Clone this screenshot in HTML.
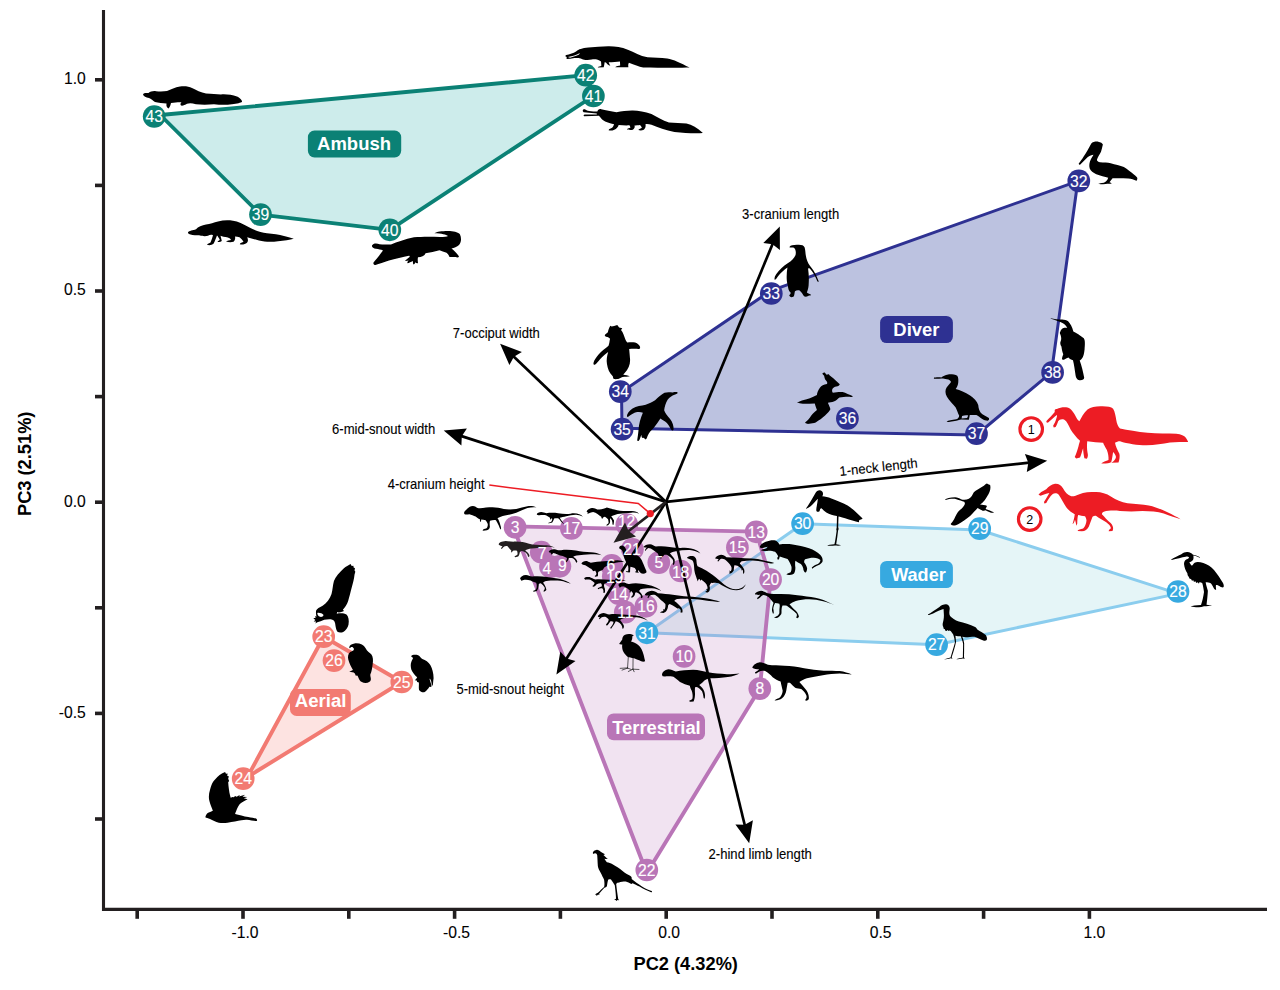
<!DOCTYPE html>
<html lang="en">
<head>
<meta charset="utf-8">
<title>PC2 vs PC3 morphospace</title>
<style>
html,body{margin:0;padding:0;background:#fff;}
body{width:1280px;height:990px;overflow:hidden;}
svg{display:block;font-family:"Liberation Sans",Arial,Helvetica,sans-serif;}
.num{font-size:16px;fill:#fff;text-anchor:middle;stroke:#fff;stroke-width:0.15px;}
.tick{font-size:16px;fill:#000;stroke:#000;stroke-width:0.1px;}
.ax{font-size:18.67px;font-weight:bold;fill:#000;}
.vec{font-size:13.33px;fill:#000;stroke:#000;stroke-width:0.1px;}
.grp{font-size:18.67px;font-weight:bold;fill:#fff;}
</style>
</head>
<body>

<svg width="1280" height="990" viewBox="0 0 1280 990">
<rect width="1280" height="990" fill="#fff"/>
<g stroke-linejoin="round">
<polygon points="160.3,115 585.7,75.2 593.4,96 389.8,229.8 260.5,214.6" fill="#cdeceb" stroke="#0b8175" stroke-width="3.8"/>
<polygon points="621.5,392 771.1,290.6 1077.8,181.2 1051.5,372.3 976.5,435 622,428.3" fill="#bcc2e0" stroke="#2e3192" stroke-width="3.0"/>
<polygon points="646.9,632.8 802.6,523.7 979.7,530 1178,593.6 936.6,644.7" fill="#e5f5f7" stroke="#8bcdee" stroke-width="3.0"/>
<polygon points="323.7,636.7 401.8,682 247.5,776.9" fill="#fde3e1" stroke="#f27a72" stroke-width="3.9"/>
<polygon points="513,526.4 756.2,531.6 770.6,579.6 759.8,688.6 646.8,873" fill="#b975b7" fill-opacity="0.2"/>
<polygon points="513,526.4 756.2,531.6 770.6,579.6 759.8,688.6 646.8,873" fill="none" stroke="#b975b7" stroke-width="3.9"/>
</g>
<g stroke="#231f20" stroke-width="3.1" fill="none">
<path d="M103.5,10 V909.4 H1267"/>
</g>
<g stroke="#231f20" stroke-width="3.6" fill="none">
<path d="M137.2,909.4 V918.8"/>
<path d="M243,909.4 V918.8"/>
<path d="M348.8,909.4 V918.8"/>
<path d="M454.6,909.4 V918.8"/>
<path d="M560.4,909.4 V918.8"/>
<path d="M666.2,909.4 V918.8"/>
<path d="M772,909.4 V918.8"/>
<path d="M877.8,909.4 V918.8"/>
<path d="M983.6,909.4 V918.8"/>
<path d="M1089.4,909.4 V918.8"/>
<path d="M95,819 H103.5"/>
<path d="M95,713.4 H103.5"/>
<path d="M95,607.8 H103.5"/>
<path d="M95,502.2 H103.5"/>
<path d="M95,396.6 H103.5"/>
<path d="M95,291 H103.5"/>
<path d="M95,185.4 H103.5"/>
<path d="M95,79.8 H103.5"/>
</g>
<g class="tick">
<text transform="translate(231.46 938.10) scale(0.9800 1.0450)">-1.0</text>
<text transform="translate(443.06 938.10) scale(0.9800 1.0450)">-0.5</text>
<text transform="translate(658.26 938.10) scale(0.9800 1.0450)">0.0</text>
<text transform="translate(869.76 938.10) scale(0.9800 1.0450)">0.5</text>
<text transform="translate(1083.48 938.10) scale(0.9800 1.0450)">1.0</text>
<text transform="translate(85.79 83.90) scale(0.9800 1.0450)" text-anchor="end">1.0</text>
<text transform="translate(85.79 294.90) scale(0.9800 1.0450)" text-anchor="end">0.5</text>
<text transform="translate(85.79 507.20) scale(0.9800 1.0450)" text-anchor="end">0.0</text>
<text transform="translate(85.79 718.30) scale(0.9800 1.0450)" text-anchor="end">-0.5</text>
</g>
<text transform="translate(633.48 970.00) scale(0.9780 1.0000)" class="ax">PC2 (4.32%)</text>
<text transform="translate(30.60 516.02) rotate(-90.00) scale(0.9780 1.0000)" class="ax">PC3 (2.51%)</text>
<rect x="307.9" y="130.5" width="93.3" height="26.9" rx="6.6" fill="#0b8175"/>
<text transform="translate(317.11 149.80) scale(0.9890 1.0300)" class="grp">Ambush</text>
<rect x="880.1" y="315.9" width="72.8" height="27.2" rx="6.6" fill="#2e3192"/>
<text transform="translate(893.37 336.00) scale(0.9856 1.0300)" class="grp">Diver</text>
<rect x="880.1" y="560.9" width="72.8" height="27.2" rx="6.6" fill="#37a9e0"/>
<text transform="translate(891.20 581.00) scale(0.9679 1.0300)" class="grp">Wader</text>
<rect x="607" y="713.4" width="98" height="26.9" rx="6.6" fill="#b975b7"/>
<text transform="translate(612.25 733.90) scale(0.9836 1.0300)" class="grp">Terrestrial</text>
<rect x="290" y="688.9" width="60.8" height="27" rx="6.6" fill="#f27a72"/>
<text transform="translate(294.80 706.80) scale(0.9960 1.0300)" class="grp">Aerial</text>
<g>
<circle cx="154.2" cy="116.5" r="11.35" fill="#0b8175"/>
<circle cx="585.7" cy="75.2" r="11.35" fill="#0b8175"/>
<circle cx="593.4" cy="96" r="11.35" fill="#0b8175"/>
<circle cx="389.8" cy="229.8" r="11.35" fill="#0b8175"/>
<circle cx="260.5" cy="214.6" r="11.35" fill="#0b8175"/>
<circle cx="620.3" cy="391.6" r="11.35" fill="#2e3192"/>
<circle cx="622.1" cy="429.2" r="11.35" fill="#2e3192"/>
<circle cx="771.3" cy="293.5" r="11.35" fill="#2e3192"/>
<circle cx="1078.8" cy="180.9" r="11.35" fill="#2e3192"/>
<circle cx="847.4" cy="418.4" r="11.35" fill="#2e3192"/>
<circle cx="976.5" cy="433.7" r="11.35" fill="#2e3192"/>
<circle cx="1052.6" cy="372.4" r="11.35" fill="#2e3192"/>
<circle cx="936.6" cy="644.7" r="11.35" fill="#37a9e0"/>
<circle cx="1178" cy="591.5" r="11.35" fill="#37a9e0"/>
<circle cx="979.7" cy="528.7" r="11.35" fill="#37a9e0"/>
<circle cx="323.7" cy="636.7" r="11.35" fill="#f27a72"/>
<circle cx="334" cy="660.6" r="11.35" fill="#f27a72"/>
<circle cx="401.8" cy="682" r="11.35" fill="#f27a72"/>
<circle cx="243.2" cy="778.7" r="11.35" fill="#f27a72"/>
<circle cx="515.1" cy="527.3" r="11.35" fill="#b975b7"/>
<circle cx="571.4" cy="528.4" r="11.35" fill="#b975b7"/>
<circle cx="626.8" cy="524.6" r="11.35" fill="#b975b7"/>
<circle cx="756.2" cy="531.8" r="11.35" fill="#b975b7"/>
<circle cx="737.4" cy="547.4" r="11.35" fill="#b975b7"/>
<circle cx="770.6" cy="579.6" r="11.35" fill="#b975b7"/>
<circle cx="541.3" cy="552.2" r="11.35" fill="#b975b7"/>
<circle cx="550.5" cy="566.7" r="11.35" fill="#b975b7"/>
<circle cx="559.9" cy="566.3" r="11.35" fill="#b975b7"/>
<circle cx="611.7" cy="565.4" r="11.35" fill="#b975b7"/>
<circle cx="613.3" cy="576.3" r="11.35" fill="#b975b7"/>
<circle cx="618.8" cy="593.7" r="11.35" fill="#b975b7"/>
<circle cx="625.3" cy="612.2" r="11.35" fill="#b975b7"/>
<circle cx="645.9" cy="606.3" r="11.35" fill="#b975b7"/>
<circle cx="632.4" cy="549.3" r="11.35" fill="#b975b7"/>
<circle cx="658.8" cy="562.6" r="11.35" fill="#b975b7"/>
<circle cx="680.6" cy="571" r="11.35" fill="#b975b7"/>
<circle cx="684.1" cy="656.4" r="11.35" fill="#b975b7"/>
<circle cx="759.8" cy="688.6" r="11.35" fill="#b975b7"/>
<circle cx="646.8" cy="870" r="11.35" fill="#b975b7"/>
<circle cx="802.6" cy="523.7" r="11.35" fill="#37a9e0"/>
<circle cx="646.9" cy="632.8" r="11.35" fill="#37a9e0"/>
<circle cx="1031.2" cy="429.1" r="11.3" fill="#fff" stroke="#ed1c24" stroke-width="3.1"/>
<circle cx="1029.7" cy="519.1" r="11.3" fill="#fff" stroke="#ed1c24" stroke-width="3.1"/>
</g>
<g id="sil">
<g transform="translate(136 78) scale(0.10000)" fill="#000"><path d="M70,165 C75,150 95,148 125,150 C145,135 170,128 200,132 C240,136 280,135 310,130 C350,115 390,90 440,85 C490,80 530,85 560,100 C600,120 650,145 700,155 C760,160 800,160 850,165 C900,160 960,170 1010,185 C1040,200 1065,225 1060,238 C1050,250 1010,255 960,262 C900,270 840,268 780,262 C720,268 650,268 600,262 C560,250 530,250 510,258 C490,270 465,280 450,275 C440,265 445,250 455,243 C430,240 390,245 350,250 C345,270 340,290 325,305 C310,300 300,280 305,255 C270,250 220,250 190,240 C170,230 150,205 130,200 C100,195 75,185 70,165 Z"/></g>
<g transform="translate(560 36) scale(0.10938)" fill="#000"><path d="M50,178 C70,170 110,165 150,140 C170,120 200,112 260,105 C320,100 380,95 440,93 C500,92 560,100 620,125 C680,150 730,180 800,195 C860,200 920,198 980,205 C1040,215 1100,245 1185,288 C1100,292 900,290 760,288 C720,285 680,260 630,245 C620,260 625,275 625,285 L505,285 C510,275 540,275 550,270 L548,232 C520,235 480,240 445,240 C450,255 455,265 460,272 C440,268 430,255 420,242 L408,240 C405,255 405,270 400,285 L345,287 C350,278 370,278 378,272 L375,232 C350,215 320,210 290,215 C260,222 220,222 190,205 C160,200 120,200 95,208 L62,210 C55,200 70,192 52,190 Z"/><path d="M72,192 C100,186 130,180 160,166 L182,156 L174,170 C150,182 120,192 92,198 Z" fill="#fff"/></g>
<g transform="translate(576 96) scale(0.10938)" fill="#000"><path d="M65,125 C75,115 90,125 100,132 C130,138 165,145 195,142 C200,125 215,115 230,122 C270,130 320,140 370,148 C420,140 470,132 520,133 C570,133 630,145 690,165 C740,190 790,225 850,242 C900,245 960,245 1010,252 C1060,265 1110,290 1160,338 C1100,345 1000,340 900,328 C820,315 750,285 690,262 C670,258 650,255 635,258 C640,275 635,295 620,308 C600,318 580,315 570,310 C575,300 595,298 602,290 C600,280 590,270 585,265 C570,268 545,268 535,270 C540,285 535,300 520,308 C500,312 475,310 465,305 C470,295 490,295 498,288 C495,278 490,270 488,268 C460,270 420,268 390,265 C385,285 370,300 350,308 C330,318 310,318 298,312 C300,300 320,298 330,290 C340,280 345,268 348,258 C310,250 270,240 245,220 C230,205 220,190 210,180 L75,185 C65,180 70,170 80,168 L190,170 L190,160 L70,148 C60,140 60,130 65,125 Z"/></g>
<g transform="translate(180 206) scale(0.10000)" fill="#000"><path d="M80,262 C90,245 130,245 160,232 C180,205 220,195 260,185 C300,180 340,165 380,155 C430,142 480,140 530,148 C580,155 630,180 690,212 C750,245 810,265 870,272 C930,278 990,285 1040,300 C1080,312 1120,320 1138,328 C1100,340 1040,350 980,352 C920,360 850,360 790,345 C750,335 710,320 672,312 C680,330 685,350 670,368 C650,385 620,390 598,382 C600,370 625,365 635,358 C625,340 610,325 595,312 C580,310 565,305 550,305 C555,325 550,345 535,358 C510,365 480,362 460,355 C470,345 495,345 510,340 C505,325 490,318 470,312 C450,312 420,305 405,298 C410,315 415,335 418,350 C405,362 390,362 375,358 C380,348 395,345 398,338 C390,322 380,305 370,295 C360,320 350,350 335,378 C320,392 290,395 270,388 C275,375 295,372 305,365 C315,340 325,315 330,292 C310,285 295,290 280,298 C250,305 210,300 190,292 C160,295 110,290 90,280 C80,275 78,268 80,262 Z"/></g>
<g transform="translate(360 222) scale(0.10000)" fill="#000"><path d="M120,235 C130,210 170,210 195,222 C230,225 270,225 310,225 C370,200 450,170 540,152 C620,145 720,145 800,150 C840,150 870,148 880,140 C860,125 820,115 745,112 C770,95 830,88 900,90 C950,95 990,105 1000,125 C1015,160 1015,200 990,230 C970,248 940,258 915,265 C940,285 975,320 990,345 C985,358 970,355 955,350 C935,350 910,352 895,350 C890,335 880,318 865,308 C840,300 815,290 795,282 C750,295 700,305 655,312 C650,335 620,350 580,352 C575,370 578,395 580,410 C570,415 560,410 555,402 C548,415 540,425 535,425 C528,415 530,400 528,390 C510,398 490,410 475,412 C470,400 480,390 490,385 C475,388 460,392 450,390 C460,375 480,365 495,350 C500,340 495,335 490,338 C430,350 350,370 290,385 C240,400 190,420 155,430 C140,430 130,420 135,405 C165,370 205,320 230,285 C210,275 185,272 160,268 C135,265 115,250 120,235 Z"/></g>
<g transform="translate(1070 136) scale(0.06263)" fill="#000"><path d="M140,440 C180,390 250,290 340,120 C360,95 400,88 450,90 C490,95 520,115 525,135 C515,170 510,210 495,250 C470,300 440,340 430,380 C430,400 450,415 480,420 C540,425 600,425 650,435 C720,455 800,470 860,495 C920,530 970,575 1020,615 C1050,640 1070,655 1075,670 C1075,690 1070,710 1060,715 C1020,700 980,685 930,680 C850,672 760,672 680,675 C665,695 645,720 630,740 C645,745 660,750 665,758 C640,765 600,760 570,765 C530,770 480,772 450,768 C460,755 500,750 540,745 C570,735 595,710 610,665 C560,655 480,635 420,610 C370,590 330,560 315,520 C300,470 310,420 330,380 C345,350 365,320 375,300 C350,300 310,315 280,340 C240,375 200,420 160,460 C145,460 138,450 140,440 Z"/></g>
<g transform="translate(758 238) scale(0.06263)" fill="#000"><path d="M505,140 C520,115 560,112 620,108 C680,102 730,110 745,150 C760,200 755,270 775,330 C790,380 810,420 850,470 C900,530 940,610 970,695 C965,705 955,700 945,685 C920,620 880,540 830,490 C815,480 805,480 800,490 C810,560 815,640 810,720 C810,770 800,830 780,870 C800,885 830,895 850,910 C845,920 820,915 800,925 C780,940 750,940 735,930 C715,900 690,860 665,840 C640,830 610,835 590,850 C580,880 585,910 570,935 C550,945 530,950 515,940 C505,930 495,920 500,910 C510,905 525,890 520,870 C490,850 480,800 475,750 C450,680 455,560 470,470 C420,500 360,560 320,610 C300,640 285,665 265,665 C260,640 270,610 290,580 C340,510 410,440 480,400 C530,370 580,320 600,270 C610,220 600,180 575,155 C550,150 520,155 505,150 Z"/></g>
<g transform="translate(580 320) scale(0.06263)" fill="#000"><path d="M395,245 C400,225 430,210 445,195 C450,160 465,120 485,90 L505,105 L545,95 L595,80 L625,120 L675,130 L655,160 C690,200 705,260 725,310 C735,330 745,350 755,360 C790,355 840,350 880,360 C920,375 955,405 960,430 C960,455 950,465 935,462 C890,455 830,455 785,465 C790,520 795,580 800,640 C800,720 770,790 710,850 L690,870 C720,880 770,880 795,900 C770,910 720,905 680,912 C650,920 640,935 610,942 C580,945 550,945 535,940 C525,925 530,905 520,895 C470,850 440,780 430,700 C420,640 430,570 450,510 C410,540 360,580 320,625 C290,660 260,700 235,715 C220,715 212,705 215,685 C225,640 260,590 300,545 C340,500 410,450 455,410 C470,380 470,340 480,300 C470,285 455,275 440,270 C420,272 400,268 395,245 Z"/></g>
<g transform="translate(610 384) scale(0.06263)" fill="#000"><path d="M270,510 C270,480 300,430 360,390 C420,350 500,345 570,330 C620,315 680,290 720,260 C770,215 820,165 870,140 C910,125 960,130 1000,135 C1030,130 1060,125 1080,135 C1085,150 1060,160 1030,170 C990,185 950,210 920,250 C890,300 870,370 865,420 C875,460 920,510 960,560 C1000,610 1020,680 1015,730 C1005,745 990,745 975,725 C950,680 920,630 880,600 C855,580 825,565 805,550 C770,600 730,660 700,700 C660,740 620,780 600,830 C590,860 585,880 570,885 C555,880 545,865 530,860 C510,865 505,850 500,810 C490,840 480,880 460,905 C445,915 435,915 435,895 C440,860 450,800 455,740 C460,640 490,540 525,460 C480,440 420,445 370,470 C330,490 300,520 280,525 C272,522 270,518 270,510 Z"/></g>
<g transform="translate(790 368) scale(0.06263)" fill="#000"><path d="M110,548 C140,540 180,520 220,510 C280,500 350,470 430,430 C430,400 450,350 480,310 C500,280 540,260 590,255 C600,240 595,220 575,200 C555,180 550,150 545,125 C530,110 515,95 520,80 C535,75 545,70 555,72 C565,85 575,100 585,108 C595,100 610,95 620,100 C625,110 640,125 660,140 C700,170 750,215 795,260 C790,280 770,290 740,295 C710,300 685,315 675,340 C670,360 670,380 685,395 C730,390 790,380 840,385 C890,400 950,430 1005,450 C1000,465 970,462 930,460 C880,462 830,465 790,470 C760,490 740,520 700,535 C670,545 630,550 605,555 C620,590 640,630 645,660 C630,690 600,720 560,760 C520,800 460,840 410,870 C380,885 340,885 310,890 C290,895 260,895 240,870 C270,850 310,810 340,760 C370,720 410,690 430,670 C420,640 405,600 395,565 C340,565 280,570 220,570 C180,575 140,560 110,548 Z"/></g>
<g transform="translate(925 368) scale(0.06263)" fill="#000"><path d="M140,160 C145,150 200,148 260,150 C290,130 320,110 370,102 C420,98 480,105 515,125 C535,150 535,200 530,240 C525,280 510,310 490,335 C560,355 640,385 720,440 C780,480 830,530 850,590 C855,640 865,680 890,715 C920,745 980,775 1020,800 C1030,820 1020,840 1000,842 C970,842 940,835 915,815 C880,790 850,765 820,750 C790,748 750,748 715,750 C710,780 705,805 700,828 L575,822 C540,835 470,850 400,858 C370,862 350,862 345,855 C370,840 430,830 500,820 C530,810 545,790 545,760 C525,720 510,670 490,630 C450,580 390,530 350,460 C320,400 320,350 345,310 C370,280 400,250 415,225 C410,200 385,185 350,180 C320,175 290,170 270,168 C230,172 180,175 145,172 Z"/><path d="M592,768 C620,754 660,752 690,757 L672,798 L584,806 Z" fill="#bcc2e0"/></g>
<g transform="translate(1030 312) scale(0.07475)" fill="#000"><path d="M275,82 C320,90 380,100 430,102 C460,105 490,110 510,125 C540,160 565,200 580,260 C620,280 670,310 720,350 C740,380 735,440 730,500 C725,550 715,600 690,630 C680,640 670,645 665,650 C690,720 710,800 725,880 C725,905 700,915 660,912 C630,910 615,880 610,850 C600,780 590,700 575,645 C550,640 530,630 515,610 C500,615 480,625 460,635 C445,640 430,640 428,625 C430,600 440,580 445,565 C430,530 425,490 420,460 C405,440 400,410 410,390 C420,370 420,340 410,310 C400,290 395,275 405,265 C410,240 430,220 460,212 C475,210 490,212 498,215 C490,190 470,165 440,150 C400,130 340,110 280,90 Z"/></g>
<g transform="translate(1040 400) scale(0.12500)" fill="#ed1c24"><path d="M50,170 C70,145 100,120 118,95 C115,80 120,70 135,72 C160,60 190,55 220,60 C250,70 270,100 285,130 C295,150 305,165 315,170 C330,140 350,100 380,75 C410,55 450,48 500,50 C540,50 570,55 585,70 C600,95 605,130 610,160 C615,190 625,215 640,228 C700,240 780,255 860,262 C940,268 1020,268 1090,270 C1130,275 1155,285 1165,300 C1175,315 1182,325 1185,335 C1140,335 1090,335 1040,340 C980,350 920,360 850,362 C780,362 700,350 640,330 C625,330 610,335 600,342 C605,370 620,400 635,430 C640,450 635,480 628,500 L570,502 C590,490 605,475 608,455 C605,440 595,425 585,415 C580,440 578,470 570,495 C560,505 520,510 490,508 C500,495 530,490 548,480 C550,455 545,425 535,400 C520,375 510,355 505,342 C470,340 420,335 378,330 C375,360 375,390 380,420 C385,440 385,455 375,470 L355,465 C350,440 345,410 345,385 C335,410 330,440 320,460 L290,468 L278,455 C290,430 300,400 308,370 C312,350 318,335 320,325 C290,300 265,265 245,235 C230,205 215,170 195,158 C175,150 155,155 145,170 C140,185 135,200 125,215 L110,220 L105,205 C115,190 125,170 130,150 C135,135 138,125 135,120 C115,135 90,160 65,180 L55,182 Z"/></g>
<g transform="translate(1030 476) scale(0.12500)" fill="#ed1c24"><path d="M68,150 C75,135 100,120 130,105 C150,85 170,65 200,62 C230,60 250,75 265,100 C280,130 300,150 330,162 C350,165 370,155 395,145 C430,130 480,128 530,128 C570,128 610,140 650,165 C690,190 730,210 780,218 C840,225 900,228 950,235 C1000,245 1050,265 1100,290 C1140,310 1180,330 1205,345 C1170,335 1120,318 1070,300 C1020,285 960,280 900,280 C840,285 780,285 720,280 C680,275 630,275 590,285 C580,290 575,295 575,305 C595,325 620,355 645,375 C665,395 670,420 660,440 L630,442 C628,432 640,425 648,418 C645,400 630,385 610,370 C585,355 555,340 530,320 C520,315 510,320 500,325 C490,350 480,380 470,405 C460,425 440,440 415,442 L380,440 C385,428 405,425 425,420 C440,405 450,380 452,355 C450,340 445,330 440,322 C420,320 400,315 385,312 C380,330 378,355 378,380 L372,398 C368,385 365,365 360,350 C355,365 350,380 340,385 C345,365 355,335 358,305 C335,295 310,275 290,250 C270,220 250,180 230,150 C215,135 195,135 180,145 C160,160 145,190 130,215 L115,220 L112,208 C125,185 140,160 155,135 C130,140 105,150 85,158 Z"/></g>
<g transform="translate(800 486) scale(0.06263)" fill="#000"><path d="M95,360 C130,310 180,230 245,115 C260,85 290,65 320,68 C350,72 370,100 368,130 C365,145 360,155 355,165 C400,170 450,180 500,200 C580,235 680,265 760,310 C830,355 920,440 1000,520 C990,530 960,540 945,545 L940,580 C880,565 800,540 720,515 C680,500 640,490 615,485 C612,540 612,600 610,660 C618,680 618,695 608,710 C600,780 590,860 578,930 C610,935 640,940 655,948 C630,958 590,955 560,952 C520,955 470,958 435,952 C450,940 500,938 550,932 C565,870 575,790 585,715 C578,700 578,685 585,670 C588,610 590,545 590,480 C530,470 470,455 420,425 C390,405 365,380 345,355 C335,355 325,360 320,370 C318,385 315,400 305,408 C290,415 275,415 265,405 C255,385 262,350 268,320 C275,280 282,240 285,205 C250,240 210,290 170,325 C145,345 120,358 100,365 Z"/></g>
<g transform="translate(935 476) scale(0.06263)" fill="#000"><path d="M160,375 C180,355 240,345 320,338 C360,340 390,355 415,372 C450,385 500,385 540,365 C580,340 600,300 620,260 C650,230 720,190 780,155 C800,140 815,125 830,120 L850,130 L880,145 C890,180 885,220 870,255 C850,300 820,350 790,390 C765,420 740,440 720,455 C760,462 800,465 820,470 C830,480 830,490 820,500 C815,510 810,520 808,525 C850,540 900,560 940,580 C935,590 915,590 895,585 C860,570 830,555 805,545 C790,548 775,555 760,555 C735,545 710,525 680,512 C650,545 610,590 560,640 C500,690 430,740 370,770 C340,785 310,795 290,790 C270,785 255,775 250,765 C270,745 290,720 305,690 C330,640 355,590 380,560 C420,525 460,490 475,450 C480,430 475,420 465,410 C430,400 390,385 340,370 C290,358 220,368 170,382 Z"/></g>
<g transform="translate(920 600) scale(0.06263)" fill="#000"><path d="M125,232 C170,205 240,160 310,110 C340,85 380,65 420,68 C455,72 475,100 475,140 C470,180 460,220 480,255 C510,290 560,320 620,345 C700,365 800,395 880,430 C900,440 905,455 915,470 C960,500 1020,530 1050,560 C1070,590 1075,620 1065,640 C1050,655 1030,655 1010,645 C960,625 910,600 870,585 C820,585 770,590 730,595 C710,595 690,590 675,588 C690,620 700,660 705,690 C705,770 705,850 702,920 C710,925 715,935 712,940 L685,935 C650,940 610,948 580,948 C600,935 650,930 685,920 C685,850 688,770 688,700 C680,660 665,615 650,580 C620,578 590,575 565,570 C570,600 575,640 575,670 C560,750 530,840 505,915 C515,925 520,935 515,940 L490,932 C460,940 420,950 385,950 C405,935 450,928 488,918 C510,840 540,750 558,680 C555,640 545,590 530,550 C515,530 500,510 490,495 L470,485 L455,495 L440,480 L425,495 L405,490 L398,468 L378,460 L372,430 C360,410 358,380 368,350 C380,310 385,260 380,210 C378,180 378,160 375,145 C330,155 270,185 210,215 C180,228 150,238 130,240 Z"/></g>
<g transform="translate(1160 546) scale(0.06667)" fill="#000"><path d="M165,205 C200,180 270,150 320,125 C350,100 380,88 410,90 C450,95 480,110 495,130 C520,132 560,148 600,168 L598,176 C560,160 530,148 500,144 C505,170 505,195 495,210 C480,225 460,240 440,245 C450,265 465,285 478,295 C490,285 500,265 520,250 C550,235 600,240 650,255 C710,275 770,310 810,360 C860,420 910,500 945,555 C960,585 960,610 950,620 C930,625 910,615 895,605 C875,590 855,580 840,585 C835,600 840,630 842,655 C830,660 815,650 805,630 C790,600 775,575 760,560 C740,550 710,545 685,545 C690,580 705,630 718,670 C715,740 705,820 698,880 C730,885 760,888 780,892 C750,900 700,900 660,905 C630,915 600,920 570,918 C530,915 490,915 460,910 C480,895 540,890 615,885 C635,830 650,760 660,690 C655,650 645,600 635,560 C620,545 600,540 590,545 L585,565 L565,545 L545,555 L530,530 L510,540 L500,515 L480,520 L465,495 L445,490 L430,460 L415,440 L410,410 C385,370 365,320 360,270 C360,240 375,210 400,200 C420,195 435,185 435,170 C425,155 405,155 385,160 C330,170 250,190 175,210 Z"/></g>
<g transform="translate(300 560) scale(0.08081)" fill="#000"><path d="M200,625 C210,600 240,585 280,565 C330,535 370,480 390,420 C405,370 405,310 420,260 C440,210 490,150 540,105 C570,80 600,65 625,50 L640,75 L660,70 L665,95 L680,100 L675,130 L685,145 L675,180 C670,230 655,290 640,340 C625,400 610,460 595,510 C580,550 555,590 530,615 L545,630 L520,640 C495,650 475,650 460,645 L455,665 C500,655 550,660 575,675 C600,700 610,750 600,800 C590,840 565,870 535,890 C510,900 480,900 460,885 C445,860 440,820 435,785 C430,760 420,745 400,738 C370,730 330,735 300,740 C270,755 240,765 215,770 L190,785 L200,760 L170,762 L190,742 L165,720 L195,715 L185,695 L205,700 C200,680 195,660 198,640 C198,635 199,630 200,625 Z"/><path d="M215,655 C240,650 275,660 292,680 C285,700 265,712 240,700 C225,690 212,672 215,655 Z" fill="#fff"/></g>
<g transform="translate(330 636) scale(0.09375)" fill="#000"><path d="M205,125 C205,100 230,85 270,78 C320,75 360,95 380,130 C395,160 420,175 440,195 C460,220 462,260 455,300 C450,340 445,380 430,410 C428,430 440,450 435,470 C430,490 410,500 380,500 C350,500 325,490 315,470 C305,450 300,430 290,420 L275,425 L265,400 C250,385 230,385 205,382 C220,370 240,368 245,362 C225,330 205,290 195,250 C188,220 192,190 215,170 C235,160 255,155 255,140 C245,120 225,115 210,130 Z"/><path d="M865,215 C875,200 910,195 940,205 C960,215 970,235 985,245 C1020,255 1050,275 1070,310 C1090,345 1105,400 1105,450 C1100,480 1100,510 1095,535 L1085,510 L1080,545 L1060,540 C1050,560 1030,580 1010,598 C990,605 965,595 950,575 C945,550 950,520 948,495 L930,490 L925,475 L905,472 L920,455 L930,440 C905,420 880,390 868,360 C860,330 858,300 868,275 C875,255 885,245 885,235 C880,225 870,222 865,215 Z"/><path d="M224,120 C236,112 252,124 252,140 C242,132 232,130 224,130 Z M1066,452 C1078,470 1086,495 1084,528 C1076,510 1070,485 1062,462 Z" fill="#fff"/></g>
<g transform="translate(195 766) scale(0.06263)" fill="#000"><path d="M165,820 C170,790 185,760 210,745 C240,735 265,725 285,715 C270,670 245,620 230,560 C215,500 220,440 240,380 C255,330 270,280 295,245 C330,200 380,150 430,120 L480,95 L495,125 L520,120 L515,160 L540,165 L530,205 L545,240 L530,260 C535,330 545,410 560,470 L570,505 L600,495 L620,500 L640,480 L665,490 L720,460 L700,485 L800,460 L760,490 L835,495 L780,515 L840,530 C800,550 760,570 730,595 C700,620 680,660 665,700 C655,725 645,750 640,765 C700,780 780,800 850,815 C900,825 950,830 975,840 C995,855 995,870 985,878 C940,875 880,868 830,860 C800,858 770,862 740,868 C680,880 600,895 520,905 C470,910 420,910 380,905 C330,890 280,865 240,845 C210,835 180,830 165,820 Z"/></g>
<g transform="translate(585 844) scale(0.06263)" fill="#000"><path d="M125,140 C130,115 155,95 190,90 C215,90 235,105 250,125 C270,140 295,155 320,165 L295,175 C310,190 330,205 345,225 L365,235 L330,240 L310,235 C320,255 335,275 350,290 C380,295 410,305 440,325 C490,355 550,390 600,430 C640,465 680,490 720,505 C745,520 750,540 745,560 C790,595 850,640 910,680 C960,710 1020,740 1065,750 C1075,760 1070,770 1055,772 C1000,750 930,715 870,680 C830,660 790,640 760,625 L740,640 C710,625 680,605 650,600 C620,595 590,598 565,605 C550,615 535,620 515,618 L498,640 C502,680 510,740 518,800 C522,830 528,860 530,880 L545,900 L520,895 L500,910 L490,895 L465,885 L495,875 C495,840 490,790 485,740 C482,710 478,680 475,660 C455,625 435,590 415,565 C400,560 385,560 370,570 C360,600 355,640 350,675 C340,690 325,695 310,700 C280,730 250,765 225,795 L235,805 L205,810 L185,830 L180,812 L160,810 L175,795 L205,780 C235,750 275,710 305,685 C315,650 310,610 305,570 C290,540 270,500 250,460 C230,420 210,390 205,350 C200,290 200,230 195,180 C190,160 180,148 165,148 C150,150 138,155 128,158 Z"/></g>
<g transform="translate(460 498) scale(0.06250)" fill="#000"><path d="M65,235 C70,205 110,180 150,145 C180,125 220,120 250,140 C270,155 290,165 320,165 C380,155 450,148 520,148 C580,148 640,160 700,175 C760,185 830,185 900,175 C960,160 1020,140 1080,130 C1130,125 1180,128 1225,150 C1180,145 1130,148 1080,160 C1020,180 960,210 900,235 C840,255 780,270 720,280 C670,290 630,305 600,325 C620,350 635,390 645,430 C655,455 660,480 655,505 C640,495 630,470 620,440 C605,410 590,380 575,355 C545,350 510,355 480,365 C470,395 475,430 478,460 C475,490 460,510 430,515 C400,520 375,525 360,520 C365,500 395,495 425,485 C440,470 445,445 445,420 C440,395 425,375 410,355 C385,350 360,350 340,345 L335,380 L320,375 L318,340 C290,330 270,310 250,295 C220,285 180,270 150,260 C120,265 90,270 75,260 C65,252 63,245 65,235 Z"/></g>
<g transform="translate(530 498) scale(0.06250)" fill="#000"><path d="M108,260 C115,240 145,225 180,225 C210,228 230,240 260,242 C320,235 390,235 450,242 C520,255 590,258 650,250 C700,242 750,245 800,265 C820,275 840,290 848,300 C830,290 800,275 760,270 C700,265 640,275 580,290 C540,300 500,305 475,315 C490,340 510,370 530,395 L545,415 C530,410 510,395 495,375 C480,355 465,335 450,325 C430,322 405,325 385,328 C380,350 370,375 355,392 C335,402 310,408 290,405 C295,390 320,388 340,378 C350,365 358,345 355,330 L340,325 L335,345 L322,340 L320,315 C300,300 280,285 255,275 C220,268 180,270 150,275 C130,275 110,270 108,260 Z"/></g>
<g transform="translate(580 498) scale(0.06250)" fill="#000"><path d="M105,215 C115,190 150,170 190,160 C225,155 250,170 275,185 C320,185 370,180 400,165 L430,150 L470,165 C520,180 580,195 640,205 C700,210 770,208 830,208 C880,210 920,225 945,250 C910,235 870,230 820,235 C760,240 700,245 640,250 C590,255 540,270 500,290 C515,310 535,335 545,360 C545,385 540,410 535,430 L520,425 C520,400 518,375 510,355 C500,340 490,330 480,325 C480,350 485,375 478,400 C470,420 455,435 435,440 L420,438 C425,425 445,418 455,405 C460,385 455,360 448,340 C435,325 420,310 400,300 C385,300 375,305 368,315 L360,330 L345,322 L340,300 C320,285 300,270 280,255 C260,240 235,228 210,222 C185,225 165,235 145,245 L125,250 L115,240 L130,228 C120,225 108,222 105,215 Z"/></g>
<g transform="translate(490 536) scale(0.07812)" fill="#231f20"><path d="M110,105 C115,85 150,70 200,65 C240,68 280,75 320,72 C380,70 440,80 500,100 C560,115 640,120 720,118 C760,118 800,130 830,150 C800,140 760,135 720,140 C660,148 590,155 530,160 C500,165 470,175 450,185 C470,200 495,220 505,245 L500,270 L488,265 C485,245 475,225 455,210 C440,200 420,195 405,192 C395,195 385,200 380,210 C378,230 372,250 360,262 L325,272 L312,265 C325,255 345,250 352,238 C355,220 350,200 345,190 C325,185 305,185 290,192 L280,210 L270,205 L272,185 C255,170 240,150 225,130 C205,125 185,130 170,145 L150,165 L140,158 L160,130 C140,128 115,120 110,105 Z"/></g>
<g transform="translate(490 536) scale(0.07812)" fill="#000"><path d="M385,545 C390,520 420,500 460,498 C490,500 510,515 540,518 C600,510 670,515 730,525 C790,535 850,540 900,550 C950,565 1000,585 1035,610 C1000,600 950,580 900,572 C840,568 780,570 720,575 C700,580 685,590 680,600 C700,625 715,655 722,690 L700,712 L680,708 C695,695 705,680 700,660 C690,640 670,620 650,605 C640,605 630,608 625,615 C625,645 615,680 600,705 L560,715 L550,705 C570,700 590,690 595,670 C600,645 600,620 590,600 C565,590 540,585 520,570 C490,560 450,558 420,565 L400,572 L395,560 C390,555 385,550 385,545 Z"/></g>
<g transform="translate(540 540) scale(0.07812)" fill="#000"><path d="M112,150 C120,130 150,115 185,118 C215,125 240,135 270,130 C330,120 400,125 460,135 C520,150 590,155 650,158 C700,160 750,172 790,195 C750,185 700,180 650,182 C590,185 530,190 470,200 C450,205 435,210 425,215 C450,230 470,250 478,275 L472,292 L460,285 C455,265 440,245 420,235 C405,230 385,228 370,232 C365,250 355,270 340,285 L330,275 C340,260 345,245 345,230 C330,220 310,212 290,205 C270,200 245,195 225,185 C205,178 185,170 170,168 L150,185 L135,180 L145,165 C130,162 115,158 112,150 Z"/></g>
<g transform="translate(540 540) scale(0.07812)" fill="#000"><path d="M530,300 C540,280 570,265 600,270 C620,275 630,290 650,290 C700,280 760,275 820,272 C880,268 940,262 990,258 C1030,258 1060,268 1085,285 C1050,280 1010,280 970,290 C920,300 870,320 830,345 C815,360 810,375 800,385 C780,395 755,400 745,410 C740,430 745,450 740,465 L705,470 L700,460 C715,455 722,445 722,430 C720,415 715,400 705,390 L690,400 L675,395 C670,380 660,370 645,365 C620,350 600,335 580,322 C560,320 540,315 530,300 Z"/></g>
<g transform="translate(540 540) scale(0.07812)" fill="#000"><path d="M565,490 C575,475 605,470 635,475 C660,485 680,500 710,505 C760,500 820,505 880,510 C940,512 1000,512 1060,510 L1100,518 C1060,522 1010,525 960,530 C910,535 860,545 825,560 C815,580 820,600 830,620 C835,645 835,665 825,680 L810,675 C815,655 812,635 800,620 C780,615 760,620 745,630 L738,618 C755,605 775,600 790,595 C795,580 790,565 780,555 C760,555 740,560 725,565 C715,580 700,595 680,600 L670,590 C685,580 695,565 700,550 C685,535 665,520 645,510 C620,505 595,505 580,510 L570,500 Z"/></g>
<g transform="translate(600 536) scale(0.07812)" fill="#000"><path d="M245,150 C250,130 270,118 295,125 C315,135 330,155 335,180 C340,205 335,225 345,240 C380,245 430,245 470,245 C500,255 520,280 535,310 C550,345 570,390 585,430 C595,450 600,465 590,470 C570,485 545,485 525,478 C510,465 500,450 490,435 L485,450 C490,460 495,465 500,470 L455,468 L450,455 L465,450 C462,435 455,420 445,410 C425,405 405,400 390,395 C385,415 385,440 385,460 L375,468 L335,462 L330,452 L360,450 C365,430 365,405 360,385 C345,365 335,345 330,325 C315,300 305,270 300,240 C295,215 290,190 275,175 C260,170 248,162 245,150 Z"/></g>
<g transform="translate(600 536) scale(0.07812)" fill="#000"><path d="M555,140 C570,120 600,105 640,105 C670,108 690,125 715,135 C770,128 830,130 890,140 C950,150 1010,155 1070,152 C1130,150 1190,160 1240,185 C1265,200 1280,215 1285,225 C1250,200 1200,185 1150,180 C1090,178 1030,185 970,195 C940,200 915,210 895,220 C915,245 940,270 955,300 C960,325 955,350 945,370 L930,362 C938,345 940,325 932,305 C915,280 890,260 865,245 C850,240 835,240 820,242 C815,255 805,265 790,270 L780,300 L770,270 L755,280 L750,250 L740,225 C720,210 700,195 680,180 C660,165 640,155 620,155 C605,160 595,175 585,190 L575,185 C580,170 590,155 600,148 C585,148 565,148 555,140 Z"/></g>
<g transform="translate(590 574) scale(0.07812)" fill="#000"><path d="M365,135 C375,115 405,105 440,110 C465,118 480,130 500,128 C550,115 610,115 660,125 C720,135 780,145 830,165 C870,180 900,200 912,218 C880,200 840,185 790,182 C740,180 690,185 650,195 C640,200 632,210 630,220 C650,240 670,265 675,290 L665,312 L650,305 C655,290 652,275 640,262 C625,250 605,240 590,235 C580,240 575,250 575,262 C570,280 555,295 535,305 L525,295 C540,282 550,268 550,250 C545,235 535,225 525,218 L515,240 L505,235 L508,210 C490,195 470,180 450,168 C430,160 410,160 395,165 L380,175 L375,160 C368,150 362,142 365,135 Z"/></g>
<g transform="translate(590 574) scale(0.07812)" fill="#000"><path d="M700,265 C715,240 750,220 790,215 C820,215 845,230 870,245 C930,250 1000,255 1060,265 C1120,275 1190,285 1250,288 C1330,292 1410,300 1480,312 C1560,325 1620,340 1668,358 C1600,352 1540,345 1480,338 C1400,328 1320,320 1250,318 C1200,316 1160,318 1120,320 C1100,325 1085,335 1080,345 C1110,365 1145,395 1170,430 C1185,455 1190,480 1180,495 L1155,490 C1165,478 1165,460 1150,445 C1130,440 1110,445 1100,430 C1075,410 1045,395 1020,385 C1005,390 998,405 998,420 C995,445 985,470 965,488 L940,498 L895,492 C905,482 925,480 940,470 L935,450 L955,455 C965,435 968,410 965,385 C950,365 925,345 900,325 C880,305 860,285 835,270 C810,262 785,265 765,280 L745,310 L735,300 L750,275 C730,275 710,275 700,265 Z"/></g>
<g transform="translate(590 574) scale(0.07812)" fill="#000"><path d="M100,540 C105,520 135,502 170,498 C200,500 220,512 245,518 C300,510 360,512 420,520 C480,528 540,528 590,530 C650,535 700,560 740,598 C700,575 650,560 600,555 C540,552 480,555 430,565 C410,570 395,580 385,590 C400,610 425,635 435,665 L430,695 L415,700 L412,680 C410,660 395,640 375,625 C360,615 345,608 330,605 C320,625 305,650 285,680 L270,700 L258,692 L275,670 C290,650 300,630 300,610 C290,605 275,602 262,605 L225,655 L210,660 L205,645 L225,620 C235,605 240,590 238,578 C225,565 210,555 195,548 C175,545 155,550 140,560 L125,580 L115,572 L128,555 C115,552 102,548 100,540 Z"/></g>
<g transform="translate(680 540) scale(0.07812)" fill="#000"><path d="M90,225 C100,210 130,202 165,205 C190,212 205,230 210,255 C212,285 215,315 225,335 C260,350 300,370 340,395 C390,425 440,465 490,505 C540,550 590,590 640,615 C690,635 740,635 785,615 C810,600 830,580 840,565 C835,590 815,615 785,632 C740,648 690,645 640,630 C590,612 540,585 495,555 C470,545 440,545 415,552 L400,548 C390,560 380,575 378,590 C385,610 385,635 375,655 L355,672 L330,670 L325,660 L345,650 L335,625 L350,630 C355,615 352,598 345,585 L340,570 C330,555 315,540 300,528 L270,505 L262,525 L252,500 L235,505 L228,530 L218,505 C210,480 200,455 192,430 C185,400 180,370 180,340 C178,310 175,280 160,262 C140,250 115,245 95,235 Z"/></g>
<g transform="translate(680 540) scale(0.07812)" fill="#000"><path d="M450,235 C460,215 490,195 525,190 C555,190 575,205 595,220 C640,225 690,225 740,228 C800,232 860,235 920,238 C980,240 1040,250 1100,268 C1150,280 1190,285 1205,295 C1190,305 1150,300 1110,290 C1050,275 990,265 930,262 C880,262 830,265 790,272 C780,280 770,290 765,300 C785,320 810,345 820,375 C828,400 825,420 815,432 L805,425 C810,410 808,395 800,380 L780,390 L790,370 C775,355 755,340 735,330 C720,325 705,322 695,325 C690,345 690,370 688,390 C680,405 665,420 645,430 L625,425 L640,410 L625,390 L650,400 C660,385 662,365 658,345 C650,325 635,305 620,290 C605,275 590,262 575,250 C555,240 535,238 515,245 L490,275 L478,270 L495,245 C478,245 460,245 450,235 Z"/></g>
<g transform="translate(745 530) scale(0.07812)" fill="#000"><path d="M190,215 C195,190 225,165 265,150 C310,135 355,125 390,135 C415,145 430,165 440,185 C490,180 550,178 610,185 C680,195 750,210 820,235 C880,255 930,285 965,320 C990,345 1000,380 990,410 C975,435 945,450 915,460 C895,470 875,480 860,495 L855,480 C875,462 900,450 925,440 C950,428 965,410 965,385 C950,370 920,358 880,355 C840,355 800,362 770,375 C760,385 755,400 758,415 C775,435 790,460 795,490 C795,510 790,530 780,545 L765,540 C755,530 745,510 745,490 C740,470 730,450 715,435 C690,425 665,410 645,395 C640,420 640,450 645,480 C645,510 640,535 630,555 C615,570 590,578 560,575 L530,570 C540,555 565,550 585,540 C595,520 598,495 595,470 C585,435 565,400 545,370 C510,360 475,350 445,340 L435,375 L420,380 L412,360 L425,335 C415,315 400,295 385,280 C365,270 335,265 300,265 C275,270 250,268 225,265 L205,262 C215,250 245,245 275,235 L290,215 C260,225 225,235 200,235 Z"/></g>
<g transform="translate(745 580) scale(0.07812)" fill="#000"><path d="M125,180 C135,160 165,142 205,138 C240,140 265,155 290,170 C340,178 400,180 460,180 C530,180 600,185 670,195 C750,205 830,215 900,228 C970,242 1040,270 1100,300 L1145,320 C1100,305 1050,285 1000,272 C940,258 880,250 820,248 C760,248 700,255 650,268 C620,280 590,295 570,310 C590,335 620,365 650,395 C675,420 690,450 690,475 L670,490 L655,480 C665,465 668,450 660,432 C640,410 615,390 590,370 C570,355 550,340 535,330 C515,325 495,325 480,328 C470,350 465,380 468,410 L465,435 C450,460 430,478 405,488 L370,482 C385,470 410,465 425,450 L440,425 C440,395 440,360 445,330 L440,305 C420,298 400,295 385,295 C375,315 365,340 362,365 C365,385 370,405 368,425 L358,432 L345,395 C345,370 350,340 360,310 L365,290 C345,270 325,245 305,222 C285,205 260,195 235,192 C215,198 200,215 185,232 L160,245 L155,232 C170,220 185,205 195,190 C170,192 140,192 125,180 Z"/></g>
<g transform="translate(745 650) scale(0.09375)" fill="#000"><path d="M78,190 C82,165 110,140 150,132 C185,130 215,145 245,158 C300,165 360,165 420,168 C490,170 560,180 630,195 C700,208 770,218 840,220 C900,220 960,220 1010,225 C1060,232 1100,245 1140,262 C1100,258 1060,252 1010,250 C950,250 890,258 830,268 C770,278 710,288 660,300 C630,310 600,325 580,340 C600,365 630,395 655,430 C675,460 685,495 680,525 L660,540 L640,535 C655,522 660,505 655,485 C645,460 625,435 600,415 C580,410 555,410 535,402 C515,385 495,365 480,348 L455,350 C450,375 445,405 440,435 C435,465 420,495 395,515 C375,530 345,540 315,538 C330,525 355,520 375,505 C390,485 400,460 402,435 C395,400 385,365 380,335 C350,325 320,310 295,290 C270,265 245,240 215,225 C190,218 165,222 145,235 L115,252 L105,240 C120,230 140,218 150,205 C125,205 95,205 78,190 Z"/></g>
<g transform="translate(650 650) scale(0.09375)" fill="#000"><path d="M128,258 C130,235 155,215 195,205 C225,205 245,220 275,228 C330,218 400,210 460,210 C520,212 570,225 620,238 C680,248 750,255 820,258 C870,258 920,255 955,250 C930,265 880,280 830,288 C770,298 700,300 640,302 C610,305 585,320 565,340 C550,355 535,365 525,372 C550,390 570,415 580,445 C588,475 590,500 582,520 L572,512 C570,490 565,465 555,440 C540,420 520,405 500,395 L480,398 C478,420 478,445 480,470 C480,500 475,525 465,548 L430,552 L415,545 C425,535 445,530 452,520 C458,495 455,465 445,435 C435,415 428,395 425,380 C390,370 355,358 320,340 C295,320 275,300 250,285 C220,280 185,280 160,282 L135,280 C130,272 128,265 128,258 Z"/></g>
<g transform="translate(600 620) scale(0.06263)" fill="#000"><path d="M305,385 C320,360 340,335 355,310 C355,280 370,250 400,235 C430,222 470,220 500,228 L540,245 L515,262 C520,290 510,320 495,345 C530,355 575,370 610,400 C650,435 680,490 695,550 C705,590 715,630 720,660 L690,668 C650,655 600,635 555,615 L540,612 C500,602 470,597 445,590 C420,570 395,545 375,510 C355,470 350,430 355,390 C340,392 320,392 305,385 Z"/><path d="M452,590 L440,765 M528,610 L526,785 M440,765 L322,772 M440,768 L352,800 M440,768 L500,790 M526,785 L622,790 M526,785 L452,822 M526,785 L545,826" stroke="#111" stroke-width="11" fill="none" stroke-linecap="round"/></g>
</g>
<g>
<line x1="666" y1="501.9" x2="772.9" y2="243.2" stroke="#000" stroke-width="2.7"/><polygon points="779.8,226.6 779.9,249.9 772.5,244.2 763.3,243" fill="#000"/>
<line x1="666" y1="501.9" x2="513.1" y2="356.1" stroke="#000" stroke-width="2.7"/><polygon points="500.1,343.7 521.9,352 513.9,356.8 509.4,365.1" fill="#000"/>
<line x1="666" y1="501.9" x2="460.8" y2="435.9" stroke="#000" stroke-width="2.7"/><polygon points="443.7,430.4 466.9,428.4 461.8,436.2 461.4,445.6" fill="#000"/>
<line x1="666" y1="501.9" x2="1029.3" y2="462.6" stroke="#000" stroke-width="2.7"/><polygon points="1047.2,460.7 1026.8,472 1028.3,462.7 1024.9,454.1" fill="#000"/>
<line x1="666" y1="501.9" x2="566.1" y2="659.2" stroke="#000" stroke-width="2.7"/><polygon points="556.4,674.4 560.3,651.4 566.6,658.4 575.5,661.1" fill="#000"/>
<line x1="666" y1="501.9" x2="744.9" y2="825.7" stroke="#000" stroke-width="2.7"/><polygon points="749.2,843.2 735.4,824.4 744.7,824.7 752.9,820.2" fill="#000"/>
</g>
<g class="num">
<text transform="translate(154.20 122.20) scale(0.9800 1.0200)">43</text>
<text transform="translate(585.70 80.90) scale(0.9800 1.0200)">42</text>
<text transform="translate(593.40 101.70) scale(0.9800 1.0200)">41</text>
<text transform="translate(389.80 235.50) scale(0.9800 1.0200)">40</text>
<text transform="translate(260.50 220.30) scale(0.9800 1.0200)">39</text>
<text transform="translate(620.30 397.30) scale(0.9800 1.0200)">34</text>
<text transform="translate(622.10 434.90) scale(0.9800 1.0200)">35</text>
<text transform="translate(771.30 299.20) scale(0.9800 1.0200)">33</text>
<text transform="translate(1078.80 186.60) scale(0.9800 1.0200)">32</text>
<text transform="translate(847.40 424.10) scale(0.9800 1.0200)">36</text>
<text transform="translate(976.50 439.40) scale(0.9800 1.0200)">37</text>
<text transform="translate(1052.60 378.10) scale(0.9800 1.0200)">38</text>
<text transform="translate(936.60 650.40) scale(0.9800 1.0200)">27</text>
<text transform="translate(1178.00 597.20) scale(0.9800 1.0200)">28</text>
<text transform="translate(979.70 534.40) scale(0.9800 1.0200)">29</text>
<text transform="translate(323.70 642.40) scale(0.9800 1.0200)">23</text>
<text transform="translate(334.00 666.30) scale(0.9800 1.0200)">26</text>
<text transform="translate(401.80 687.70) scale(0.9800 1.0200)">25</text>
<text transform="translate(243.20 784.40) scale(0.9800 1.0200)">24</text>
<text transform="translate(515.10 533.00) scale(0.9800 1.0200)">3</text>
<text transform="translate(571.40 534.10) scale(0.9800 1.0200)">17</text>
<text transform="translate(626.60 526.90) scale(0.9800 1.0200)">12</text>
<text transform="translate(756.20 537.50) scale(0.9800 1.0200)">13</text>
<text transform="translate(737.40 553.10) scale(0.9800 1.0200)">15</text>
<text transform="translate(770.60 585.30) scale(0.9800 1.0200)">20</text>
<text transform="translate(542.20 559.30) scale(0.9800 1.0200)">7</text>
<text transform="translate(546.80 573.60) scale(0.9800 1.0200)">4</text>
<text transform="translate(562.40 570.90) scale(0.9800 1.0200)">9</text>
<text transform="translate(610.80 570.80) scale(0.9800 1.0200)">6</text>
<text transform="translate(614.60 582.90) scale(0.9800 1.0200)">19</text>
<text transform="translate(619.30 599.90) scale(0.9800 1.0200)">14</text>
<text transform="translate(625.30 617.90) scale(0.9800 1.0200)">11</text>
<text transform="translate(645.90 612.00) scale(0.9800 1.0200)">16</text>
<text transform="translate(631.90 554.80) scale(0.9800 1.0200)">21</text>
<text transform="translate(658.80 568.30) scale(0.9800 1.0200)">5</text>
<text transform="translate(680.60 577.80) scale(0.9800 1.0200)">18</text>
<text transform="translate(684.10 662.10) scale(0.9800 1.0200)">10</text>
<text transform="translate(759.80 694.30) scale(0.9800 1.0200)">8</text>
<text transform="translate(646.80 875.70) scale(0.9800 1.0200)">22</text>
<text transform="translate(802.60 529.40) scale(0.9800 1.0200)">30</text>
<text transform="translate(646.90 638.50) scale(0.9800 1.0200)">31</text>
</g>
<text x="1031.2" y="433.6" font-size="12.5" text-anchor="middle" fill="#000">1</text>
<text x="1029.8" y="523.6" font-size="12.5" text-anchor="middle" fill="#000">2</text>
<line x1="666" y1="501.9" x2="627.7" y2="531.7" stroke="#231f20" stroke-width="2.7"/><polygon points="613.5,542.7 625,522.4 628.5,531 636,536.6" fill="#231f20"/>
<path d="M489.3,485.1 L638.3,503.5 L650.3,513.6" fill="none" stroke="#ed1c24" stroke-width="1.5"/>
<circle cx="650.3" cy="513.6" r="3.6" fill="#ed1c24"/>
<g class="vec">
<text transform="translate(742.11 219.10) scale(0.9786 1.0300)">3-cranium length</text>
<text transform="translate(452.77 338.10) scale(0.9799 1.0300)">7-occiput width</text>
<text transform="translate(332.01 434.10) scale(0.9816 1.0300)">6-mid-snout width</text>
<text transform="translate(387.66 488.90) scale(0.9768 1.0300)">4-cranium height</text>
<text transform="translate(456.41 694.10) scale(0.9768 1.0300)">5-mid-snout height</text>
<text transform="translate(708.56 858.80) scale(0.9816 1.0300)">2-hind limb length</text>
<text transform="translate(840.00 476.00) rotate(-6.20) scale(0.9810 1.0300)">1-neck length</text>
</g>
</svg>
</body>
</html>
